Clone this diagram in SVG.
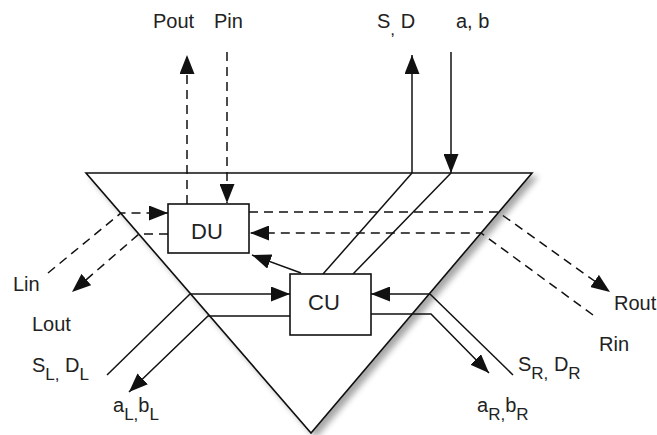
<svg xmlns="http://www.w3.org/2000/svg" width="657" height="435" viewBox="0 0 657 435">
<style>
  .ln { fill: none; stroke: #111; stroke-width: 1.5; }
  .ds { fill: none; stroke: #111; stroke-width: 1.5; stroke-dasharray: 9 6; }
  .ar { marker-end: url(#ah); }
  .box { fill: #fff; stroke: #111; stroke-width: 1.6; }
  .t { font-family: "Liberation Sans", Arial, sans-serif; font-size: 20px; fill: #222; }
  .big { font-size: 22px; }
  .sub { font-size: 17px; }
</style>
<defs>
  <marker id="ah" markerUnits="userSpaceOnUse" markerWidth="19" markerHeight="15" refX="19" refY="7.5" orient="auto">
    <path d="M0,0 L19,7.5 L0,15 z" fill="#111"/>
  </marker>
  <filter id="sh" x="-10%" y="-10%" width="130%" height="130%">
    <feGaussianBlur in="SourceAlpha" stdDeviation="3"/>
    <feOffset dx="5" dy="4"/>
    <feComponentTransfer><feFuncA type="linear" slope="0.35"/></feComponentTransfer>
    <feMerge><feMergeNode/><feMergeNode in="SourceGraphic"/></feMerge>
  </filter>
</defs>
<rect width="657" height="435" fill="#fff"/>
<g id="frame">
  <polygon points="86,173 532,173 311,433" fill="#fff" stroke="#111" stroke-width="1.6" filter="url(#sh)"/>
</g>
<g id="connectors">
  <line class="ds ar" x1="187" y1="204" x2="187" y2="55"/>
  <line class="ds ar" x1="227" y1="52" x2="227" y2="203"/>
  <line class="ln ar" x1="412" y1="173" x2="412" y2="55"/>
  <line class="ln ar" x1="451" y1="52" x2="451" y2="173"/>
  <line class="ln" x1="412" y1="173" x2="323" y2="274"/>
  <line class="ln" x1="451" y1="173" x2="353" y2="274"/>
  <polyline class="ds ar" points="249,212 498,212 610,292"/>
  <polyline class="ds ar" points="593,315 481,233 250,233"/>
  <polyline class="ds ar" points="48,273 121,213 168,213"/>
  <polyline class="ds ar" points="168,234 139,234 72,292"/>
  <line class="ln ar" x1="301" y1="273" x2="252" y2="255"/>
  <line class="ln ar" x1="190" y1="294" x2="290" y2="294"/>
  <line class="ln" x1="190" y1="294" x2="107" y2="375"/>
  <polyline class="ln ar" points="290,316 208,316 129,392"/>
  <line class="ln ar" x1="430" y1="294" x2="371" y2="294"/>
  <line class="ln" x1="430" y1="294" x2="513" y2="375"/>
  <polyline class="ln ar" points="371,314 431,314 489,373"/>
</g>
<g id="DU">
  <rect class="box" x="168" y="204" width="81" height="49"/>
  <text class="t big" x="191" y="239">DU</text>
</g>
<g id="CU">
  <rect class="box" x="290" y="274" width="81" height="61"/>
  <text class="t big" x="308" y="310">CU</text>
</g>
<g id="labels">
  <text class="t" x="153" y="28">Pout</text>
  <text class="t" x="214" y="28">Pin</text>
  <text class="t" x="377" y="28">S<tspan class="sub" dy="7">,</tspan><tspan dy="-7"> D</tspan></text>
  <text class="t" x="456" y="28">a, b</text>
  <text class="t" x="13" y="291">Lin</text>
  <text class="t" x="32" y="331">Lout</text>
  <text class="t" x="32" y="372">S<tspan class="sub" dy="8">L,</tspan><tspan dy="-8"> D</tspan><tspan class="sub" dy="8">L</tspan></text>
  <text class="t" x="113" y="412">a<tspan class="sub" dy="8">L,</tspan><tspan dy="-8">b</tspan><tspan class="sub" dy="8">L</tspan></text>
  <text class="t" x="614" y="310">Rout</text>
  <text class="t" x="599" y="351">Rin</text>
  <text class="t" x="518" y="371">S<tspan class="sub" dy="8">R,</tspan><tspan dy="-8"> D</tspan><tspan class="sub" dy="8">R</tspan></text>
  <text class="t" x="477" y="412">a<tspan class="sub" dy="8">R,</tspan><tspan dy="-8">b</tspan><tspan class="sub" dy="8">R</tspan></text>
</g>
</svg>
